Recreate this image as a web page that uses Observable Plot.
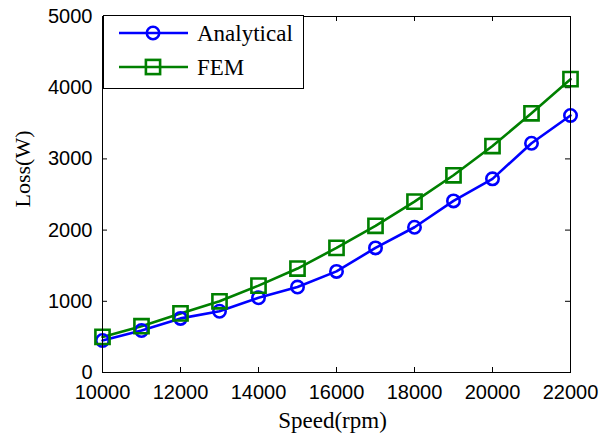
<!DOCTYPE html>
<html><head><meta charset="utf-8">
<script src="https://cdn.jsdelivr.net/npm/d3@7"></script>
<script src="https://cdn.jsdelivr.net/npm/@observablehq/plot@0.6"></script>
<style>
body{margin:0;background:#fff}
#wrap{position:relative;width:604px;height:434px}
#legend{position:absolute;left:0;top:0;pointer-events:none}
</style>
</head><body><div id="wrap"></div>
<script>
const speeds = [10000,11000,12000,13000,14000,15000,16000,17000,18000,19000,20000,21000,22000];
const analytical = [450,590,760,860,1050,1200,1420,1750,2040,2410,2720,3220,3610];
const fem = [500,650,830,1000,1220,1460,1750,2060,2400,2770,3180,3640,4120];
const seriesNames = ["Analytical","FEM"];
const seriesColors = ["#0000ff","#008000"];
const seriesSymbols = ["circle","square"];
const xTicks = [10000,12000,14000,16000,18000,20000,22000];
const yTicks = [0,1000,2000,3000,4000,5000];
const xLabel = "Speed(rpm)";
const yLabel = "Loss(W)";

const rows = speeds.flatMap((s,i)=>[
  {speed:s, loss:analytical[i], series:"Analytical"},
  {speed:s, loss:fem[i], series:"FEM"}
]);

const W = 604, H = 434, mL = 102, mT = 16, mR = 34, mB = 62;
const tickFont = "Liberation Sans, Arial, sans-serif";
const serif = "Liberation Serif, Times New Roman, serif";
const tl = 5;

const chart = Plot.plot({
  width: W, height: H,
  marginLeft: mL, marginTop: mT, marginRight: mR, marginBottom: mB,
  x: {domain: [10000, 22000]},
  y: {domain: [0, 5000]},
  color: {domain: seriesNames, range: seriesColors},
  style: {background: "white", color: "black", overflow: "visible"},
  marks: [
    Plot.axisX({ticks: xTicks, tickSize: 0, tickPadding: 12, fontSize: 20, fontFamily: tickFont, label: null, tickFormat: d => String(d)}),
    Plot.axisY({ticks: yTicks, tickSize: 0, tickPadding: 10, fontSize: 20, fontFamily: tickFont, label: null, tickFormat: d => String(d)}),
    Plot.tickX(xTicks, {x: d => d, stroke: "black", insetTop: H - mT - mB - tl}),
    Plot.tickX(xTicks, {x: d => d, stroke: "black", insetBottom: H - mT - mB - tl}),
    Plot.tickY(yTicks, {y: d => d, stroke: "black", insetRight: W - mL - mR - tl}),
    Plot.tickY(yTicks, {y: d => d, stroke: "black", insetLeft: W - mL - mR - tl}),
    Plot.line(rows, {x: "speed", y: "loss", z: "series", stroke: "series", strokeWidth: 2.6}),
    Plot.dot(rows.filter(d => d.series === "Analytical"), {x: "speed", y: "loss", stroke: "series", symbol: "circle", r: 6.2, strokeWidth: 2.6, fill: "none"}),
    Plot.dot(rows.filter(d => d.series === "FEM"), {x: "speed", y: "loss", stroke: "series", symbol: "square", r: 8, strokeWidth: 2.6, fill: "none"}),
    Plot.frame({stroke: "black", strokeWidth: 1}),
    Plot.text([xLabel], {frameAnchor: "bottom", dx: -4, dy: 48, fontSize: 23, fontFamily: serif, lineAnchor: "middle", fill: "black"}),
    Plot.text([yLabel], {frameAnchor: "left", dx: -80, dy: 13, rotate: -90, fontSize: 22, fontFamily: serif, lineAnchor: "middle", fill: "black"})
  ]
});
document.getElementById("wrap").appendChild(chart);

// Legend overlay
const lg = d3.select("#wrap").append("svg").attr("id","legend").attr("width",W).attr("height",H);
lg.append("rect").attr("x",103.5).attr("y",15.5).attr("width",200).attr("height",73).attr("fill","white").attr("stroke","black");
seriesNames.forEach((name,i) => {
  const cy = 33 + i*34;
  lg.append("line").attr("x1",119).attr("x2",188).attr("y1",cy).attr("y2",cy).attr("stroke",seriesColors[i]).attr("stroke-width",2.6);
  if (seriesSymbols[i] === "circle") {
    lg.append("circle").attr("cx",153).attr("cy",cy).attr("r",6.2).attr("fill","none").attr("stroke",seriesColors[i]).attr("stroke-width",2.6);
  } else {
    lg.append("rect").attr("x",153-7.1).attr("y",cy-7.1).attr("width",14.2).attr("height",14.2).attr("fill","none").attr("stroke",seriesColors[i]).attr("stroke-width",2.6);
  }
  lg.append("text").attr("x",197).attr("y",cy).attr("dy","0.35em").attr("font-family",serif).attr("font-size",23).attr("fill","black").text(name);
});
</script>
</body></html>
